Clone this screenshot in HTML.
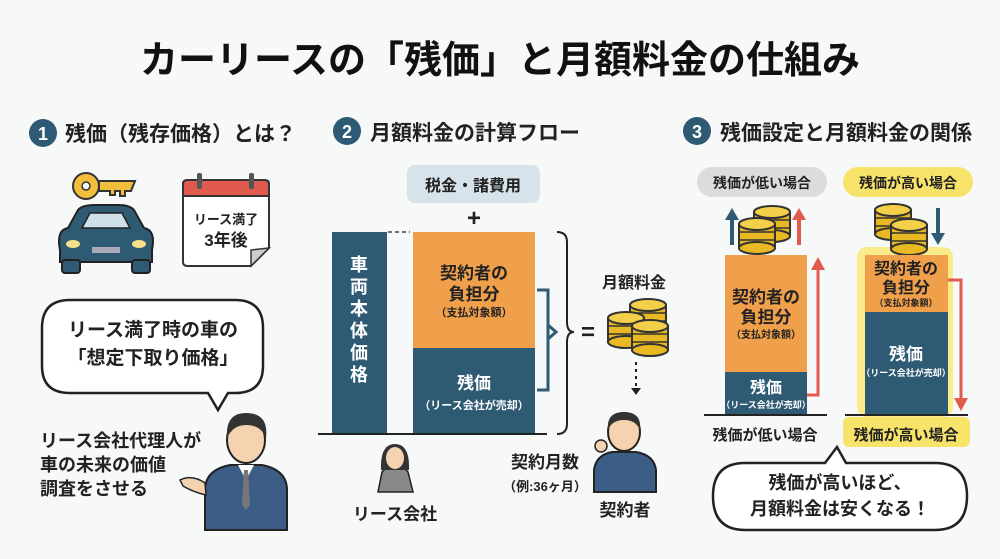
<!DOCTYPE html>
<html><head><meta charset="utf-8"><style>
html,body{margin:0;padding:0;background:#f7f8f8}
svg{display:block}
text{font-family:"Liberation Sans","Noto Sans CJK JP",sans-serif;font-weight:bold}
</style></head><body>
<svg width="1000" height="559" viewBox="0 0 1000 559" xmlns="http://www.w3.org/2000/svg">
<defs>
<g id="coin">
<rect x="-18" y="0" width="36" height="24" fill="#e8b923" stroke="#333" stroke-width="2"/>
<line x1="-18" y1="8" x2="18" y2="8" stroke="#333" stroke-width="1.5"/>
<line x1="-18" y1="16" x2="18" y2="16" stroke="#333" stroke-width="1.5"/>
<ellipse cx="0" cy="24" rx="18" ry="6" fill="#e8b923" stroke="#333" stroke-width="2"/>
<ellipse cx="0" cy="0" rx="18" ry="6" fill="#f4d04a" stroke="#333" stroke-width="2"/>
</g>
</defs>
<rect width="1000" height="559" fill="#f7f8f8"/>
<text x="500" y="73" font-size="38" text-anchor="middle" fill="#111">カーリースの「残価」と月額料金の仕組み</text>

<!-- Section 1 -->
<circle cx="43" cy="133" r="14" fill="#2e5a74"/><text x="43" y="140" font-size="18" fill="#fff" text-anchor="middle">1</text>
<text x="65" y="141" font-size="21" fill="#222">残価（残存価格）とは？</text>
<circle cx="86" cy="186" r="13" fill="#f2bf3c" stroke="#333" stroke-width="2"/><circle cx="86" cy="186" r="4" fill="#f7f8f8" stroke="#333" stroke-width="1.5"/>
<path d="M99,181 H135 L131,191 H125 V196 H120 V191 H115 V195 H110 V191 H99 Z" fill="#f2bf3c" stroke="#333" stroke-width="2"/>
<path d="M60,250 Q56,230 68,228 L78,210 Q82,205 95,205 H118 Q130,205 134,210 L144,228 Q156,230 152,250 V262 H60 Z" fill="#2e5a74" stroke="#222" stroke-width="2"/>
<path d="M82,228 L90,213 H122 L130,228 Z" fill="#cfe0ea" stroke="#222" stroke-width="1.5"/>
<rect x="62" y="260" width="18" height="13" rx="3" fill="#2e5a74" stroke="#222" stroke-width="2"/>
<rect x="132" y="260" width="18" height="13" rx="3" fill="#2e5a74" stroke="#222" stroke-width="2"/>
<ellipse cx="73" cy="244" rx="7" ry="4" fill="#f6e08a"/><ellipse cx="139" cy="244" rx="7" ry="4" fill="#f6e08a"/>
<rect x="92" y="247" width="28" height="6" fill="#aab" />
<path d="M183,184 Q183,180 188,180 H264 Q269,180 269,184 V248 L251,266 H188 Q183,266 183,262 Z" fill="#fff" stroke="#333" stroke-width="2"/>
<path d="M183,184 Q183,180 188,180 H264 Q269,180 269,184 V196 H183 Z" fill="#e05a4e" stroke="#333" stroke-width="2"/>
<path d="M269,248 L251,266 V250 Z" fill="#ccc" stroke="#333" stroke-width="1.5"/>
<rect x="197" y="173" width="5" height="16" rx="2" fill="#555"/><rect x="249" y="173" width="5" height="16" rx="2" fill="#555"/>
<text x="226" y="224" font-size="13" text-anchor="middle" fill="#222">リース満了</text>
<text x="226" y="246" font-size="17" text-anchor="middle" fill="#222">3年後</text>
<path d="M70,300 H235 Q263,300 263,328 V366 Q263,393 235,393 H228 L218,410 L208,393 H70 Q42,393 42,366 V328 Q42,300 70,300 Z" fill="#fff" stroke="#222" stroke-width="2.5"/>
<text x="153" y="336" font-size="19" text-anchor="middle" fill="#222">リース満了時の車の</text>
<text x="153" y="364" font-size="19" text-anchor="middle" fill="#222">「想定下取り価格」</text>
<text x="40" y="447" font-size="18" fill="#222">リース会社代理人が</text>
<text x="40" y="471" font-size="18" fill="#222">車の未来の価値</text>
<text x="40" y="495" font-size="18" fill="#222">調査をさせる</text>
<path d="M205,530 V490 Q205,470 230,465 H262 Q287,470 287,490 V530 Z" fill="#3b5d86" stroke="#222" stroke-width="2"/>
<path d="M238,465 L246,480 L254,465 Z" fill="#fff"/><path d="M244,470 L248,470 L250,505 L246,510 L242,505 Z" fill="#777"/>
<ellipse cx="246" cy="440" rx="19" ry="23" fill="#f6d3b0" stroke="#222" stroke-width="2"/>
<path d="M227,438 Q225,413 246,413 Q269,413 266,438 Q261,425 246,425 Q233,425 227,438 Z" fill="#333"/>
<path d="M180,480 Q192,474 205,483 L206,495 Q193,492 183,486 Z" fill="#f6d3b0" stroke="#222" stroke-width="1.5"/>

<!-- Section 2 -->
<circle cx="347" cy="131" r="14" fill="#2e5a74"/><text x="347" y="138" font-size="18" fill="#fff" text-anchor="middle">2</text>
<text x="370" y="140" font-size="21" fill="#222">月額料金の計算フロー</text>
<rect x="407" y="165" width="133" height="38" rx="8" fill="#d6e3ea"/>
<text x="473" y="191" font-size="16" text-anchor="middle" fill="#222">税金・諸費用</text>
<text x="474" y="226" font-size="24" text-anchor="middle" fill="#222">+</text>
<rect x="332" y="232" width="55" height="202" fill="#2e5a74"/>
<g font-size="18" fill="#fff" text-anchor="middle"><text x="359" y="271">車</text><text x="359" y="293">両</text><text x="359" y="315">本</text><text x="359" y="337">体</text><text x="359" y="359">価</text><text x="359" y="381">格</text></g>
<line x1="388" y1="232" x2="410" y2="232" stroke="#444" stroke-width="1.5" stroke-dasharray="4,3"/>
<rect x="413" y="232" width="122" height="116" fill="#f0a04b"/>
<rect x="413" y="348" width="122" height="86" fill="#2e5a74"/>
<text x="474" y="279" font-size="17" text-anchor="middle" fill="#222">契約者の</text>
<text x="474" y="300" font-size="17" text-anchor="middle" fill="#222">負担分</text>
<text x="474" y="316" font-size="11" text-anchor="middle" fill="#222">（支払対象額）</text>
<text x="474" y="389" font-size="17" text-anchor="middle" fill="#fff">残価</text>
<text x="474" y="409" font-size="11" text-anchor="middle" fill="#fff">（リース会社が売却）</text>
<line x1="318" y1="434" x2="547" y2="434" stroke="#222" stroke-width="2"/>
<path d="M537,290 H548 V390 H537" fill="none" stroke="#2e5a74" stroke-width="3"/>
<path d="M548,325 L556,332 L548,339" fill="none" stroke="#2e5a74" stroke-width="3"/>
<path d="M557,232 Q567,232 567,242 V322 Q567,332 574,332 Q567,332 567,342 V424 Q567,434 557,434" fill="none" stroke="#222" stroke-width="2"/>
<text x="588" y="340" font-size="24" text-anchor="middle" fill="#222">=</text>
<text x="634" y="288" font-size="16" text-anchor="middle" fill="#222">月額料金</text>
<use href="#coin" x="648" y="305"/><use href="#coin" x="626" y="318"/><use href="#coin" x="650" y="326"/>
<line x1="636" y1="362" x2="636" y2="388" stroke="#222" stroke-width="2" stroke-dasharray="3,4"/>
<path d="M631,388 H641 L636,395 Z" fill="#222"/>
<path d="M594,492 V470 Q596,455 612,452 H636 Q654,455 656,470 V492 Z" fill="#3b5d86" stroke="#222" stroke-width="2"/>
<ellipse cx="624" cy="432" rx="16" ry="19" fill="#f6d3b0" stroke="#222" stroke-width="2"/>
<path d="M608,430 Q606,412 624,412 Q642,412 640,430 Q636,420 624,420 Q612,420 608,430 Z" fill="#333"/>
<circle cx="601" cy="446" r="6" fill="#f6d3b0" stroke="#222" stroke-width="1.5"/>
<text x="625" y="516" font-size="17" text-anchor="middle" fill="#222">契約者</text>
<text x="545" y="468" font-size="17" text-anchor="middle" fill="#222">契約月数</text>
<text x="545" y="491" font-size="13" text-anchor="middle" fill="#222">（例:36ヶ月）</text>
<path d="M378,492 L382,472 Q388,465 395,464 Q402,465 408,472 L413,492 Z" fill="#888" stroke="#222" stroke-width="1.5"/>
<path d="M381,470 Q380,444 395,444 Q410,444 409,470 Z" fill="#333"/>
<ellipse cx="395" cy="458" rx="9" ry="11" fill="#f6d3b0"/>
<text x="395" y="520" font-size="17" text-anchor="middle" fill="#222">リース会社</text>

<!-- Section 3 -->
<circle cx="697" cy="131" r="14" fill="#2e5a74"/><text x="697" y="138" font-size="18" fill="#fff" text-anchor="middle">3</text>
<text x="720" y="140" font-size="21" fill="#222">残価設定と月額料金の関係</text>
<rect x="697" y="167" width="130" height="30" rx="15" fill="#dcdcdc"/>
<text x="762" y="188" font-size="14" text-anchor="middle" fill="#222">残価が低い場合</text>
<rect x="843" y="167" width="130" height="30" rx="15" fill="#f8e36a"/>
<text x="908" y="188" font-size="14" text-anchor="middle" fill="#222">残価が高い場合</text>
<line x1="732" y1="245" x2="732" y2="218" stroke="#2e5a74" stroke-width="4"/><path d="M725,220 L732,208 L739,220Z" fill="#2e5a74"/>
<line x1="799" y1="245" x2="799" y2="218" stroke="#e05a4e" stroke-width="4"/><path d="M792,220 L799,208 L806,220Z" fill="#e05a4e"/>
<use href="#coin" x="772" y="212"/><use href="#coin" x="757" y="224"/>
<rect x="725" y="255" width="82" height="117" fill="#f0a04b"/>
<rect x="725" y="372" width="82" height="43" fill="#2e5a74"/>
<text x="766" y="303" font-size="17" text-anchor="middle" fill="#222">契約者の</text>
<text x="766" y="323" font-size="17" text-anchor="middle" fill="#222">負担分</text>
<text x="766" y="338" font-size="10" text-anchor="middle" fill="#222">（支払対象額）</text>
<text x="766" y="393" font-size="16" text-anchor="middle" fill="#fff">残価</text>
<text x="766" y="408" font-size="9" text-anchor="middle" fill="#fff">（リース会社が売却）</text>
<path d="M807,395 H818 V268" fill="none" stroke="#e05a4e" stroke-width="3"/><path d="M811,270 L818,257 L825,270Z" fill="#e05a4e"/>
<line x1="704" y1="415" x2="827" y2="415" stroke="#222" stroke-width="2"/>
<text x="765" y="440" font-size="15" text-anchor="middle" fill="#222">残価が低い場合</text>
<rect x="857" y="247" width="96" height="170" rx="10" fill="#f9ea8a"/>
<use href="#coin" x="893" y="210"/><use href="#coin" x="909" y="225"/>
<line x1="938" y1="208" x2="938" y2="235" stroke="#2e5a74" stroke-width="4"/><path d="M931,233 L938,245 L945,233Z" fill="#2e5a74"/>
<rect x="865" y="255" width="83" height="57" fill="#f0a04b"/>
<rect x="865" y="312" width="83" height="103" fill="#2e5a74"/>
<text x="906" y="274" font-size="16" text-anchor="middle" fill="#222">契約者の</text>
<text x="906" y="293" font-size="16" text-anchor="middle" fill="#222">負担分</text>
<text x="906" y="306" font-size="9" text-anchor="middle" fill="#222">（支払対象額）</text>
<text x="906" y="360" font-size="17" text-anchor="middle" fill="#fff">残価</text>
<text x="906" y="376" font-size="9" text-anchor="middle" fill="#fff">（リース会社が売却）</text>
<path d="M948,280 H961 V400" fill="none" stroke="#e05a4e" stroke-width="3"/><path d="M954,398 L961,411 L968,398Z" fill="#e05a4e"/>
<rect x="843" y="417" width="127" height="30" rx="6" fill="#f8e36a"/>
<line x1="845" y1="415" x2="968" y2="415" stroke="#222" stroke-width="2"/>
<text x="906" y="440" font-size="15" text-anchor="middle" fill="#222">残価が高い場合</text>
<path d="M745,463 H825 L837,447 L846,463 H935 Q967,463 967,496 Q967,530 935,530 H745 Q713,530 713,496 Q713,463 745,463 Z" fill="#fff" stroke="#222" stroke-width="2.5"/>
<text x="840" y="489" font-size="18" text-anchor="middle" fill="#222">残価が高いほど、</text>
<text x="840" y="515" font-size="18" text-anchor="middle" fill="#222">月額料金は安くなる！</text>
</svg>
</body></html>
